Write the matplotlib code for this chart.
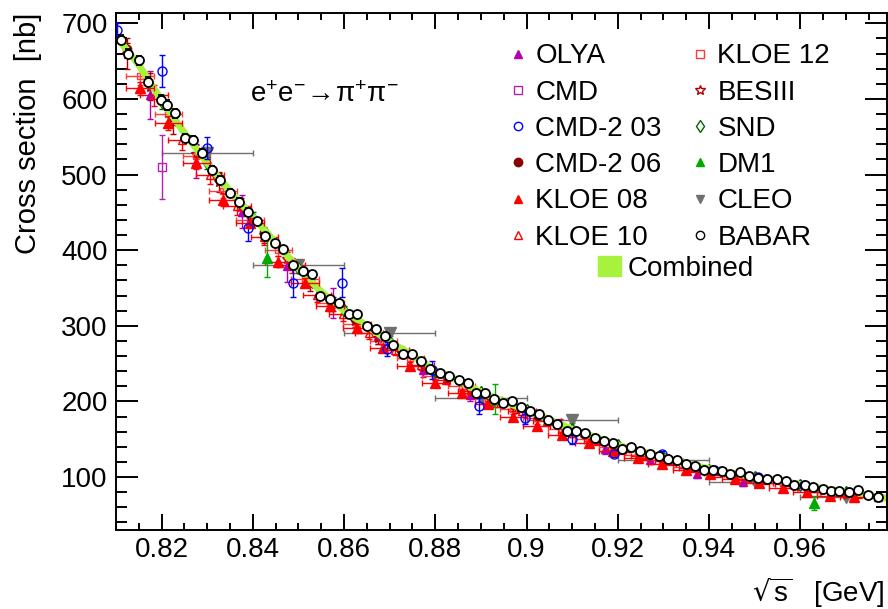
import numpy as np
import matplotlib
matplotlib.use('Agg')
import matplotlib.pyplot as plt
from matplotlib.lines import Line2D
from matplotlib.patches import Patch
from matplotlib.ticker import MultipleLocator, FuncFormatter

plt.rcParams['font.family'] = ['Liberation Sans', 'DejaVu Sans']

# --- data (sqrt(s) in GeV, cross section in nb) ---
babar_x = [0.8111, 0.8127, 0.8151, 0.8171, 0.8199, 0.8211, 0.8230, 0.8251, 0.8269, 0.8288,
           0.8310, 0.8328, 0.8350, 0.8370, 0.8390, 0.8409, 0.8427, 0.8449, 0.8467, 0.8489,
           0.8511, 0.8529, 0.8547, 0.8569, 0.8588, 0.8610, 0.8628, 0.8650, 0.8670, 0.8690,
           0.8708, 0.8729, 0.8748, 0.8768, 0.8789, 0.8811, 0.8829, 0.8851, 0.8871, 0.8889,
           0.8910, 0.8928, 0.8948, 0.8968, 0.8987, 0.9007, 0.9028, 0.9048, 0.9067, 0.9088,
           0.9108, 0.9128, 0.9150, 0.9169, 0.9190, 0.9210, 0.9229, 0.9249, 0.9270, 0.9290,
           0.9310, 0.9330, 0.9350, 0.9370, 0.9388, 0.9409, 0.9429, 0.9447, 0.9469, 0.9487,
           0.9507, 0.9528, 0.9550, 0.9568, 0.9586, 0.9610, 0.9627, 0.9649, 0.9667, 0.9686,
           0.9707, 0.9727, 0.9748, 0.9770]
babar_y = [678, 660, 651, 623, 599, 592, 581, 548, 546, 529,
           506, 493, 476, 464, 451, 438, 419, 410, 401, 380,
           372, 368, 339, 335, 330, 315, 315, 300, 296, 287,
           274, 263, 263, 253, 243, 237, 234, 229, 225, 211,
           211, 203, 198, 200, 192, 187, 184, 175, 170, 161,
           161, 158, 152, 148, 145, 137, 140, 134, 130, 128,
           124, 122, 117, 115, 110, 110, 108, 104, 107, 102,
           99, 98, 97, 95, 90, 89, 87, 84, 82, 82,
           80, 83, 76, 73]
babar_err = [6, 6, 6, 6, 6, 6, 6, 5, 5, 5,
             5, 5, 5, 5, 5, 5, 4, 4, 4, 4,
             4, 4, 4, 4, 4, 3, 3, 3, 3, 3,
             3, 3, 3, 3, 3, 3, 3, 3, 3, 3,
             3, 3, 3, 3, 3, 2, 2, 2, 2, 2,
             2, 2, 2, 2, 2, 2, 2, 2, 2, 2,
             2, 2, 2, 2, 2, 2, 2, 2, 2, 2,
             2, 2, 2, 2, 2, 2, 2, 2, 2, 2,
             2, 2, 2, 2]

kloe08_x = [0.8153, 0.8215, 0.8276, 0.8335, 0.8394, 0.8456, 0.8514, 0.8569, 0.8628, 0.8686,
            0.8745, 0.8800, 0.8858, 0.8916, 0.8971, 0.9022, 0.9077, 0.9136, 0.9189, 0.9244,
            0.9297, 0.9350, 0.9403, 0.9458, 0.9510, 0.9562, 0.9614, 0.9666, 0.9718]
kloe08_y = [614, 568, 515, 467, 436, 385, 357, 326, 297, 271,
            247, 225, 211, 196, 180, 167, 156, 145, 135, 125,
            117, 109, 104, 97, 92, 86, 80, 75, 73]
kloe08_err = [9, 9, 8, 8, 7, 7, 6, 6, 5, 5, 5, 4, 4, 4, 4, 3, 3, 3, 3, 3,
              3, 2, 2, 2, 2, 2, 2, 2, 2]

kloe10_x = [0.8183, 0.8245, 0.8306, 0.8365, 0.8425, 0.8485, 0.8541, 0.8598, 0.8655, 0.8712,
            0.8768, 0.8824, 0.8880, 0.8935, 0.8990, 0.9045, 0.9100, 0.9155, 0.9208, 0.9260,
            0.9312, 0.9365, 0.9418, 0.9470, 0.9522, 0.9574, 0.9626, 0.9676, 0.9726]
kloe10_y = [605, 546, 500, 458, 417, 380, 341, 315, 291, 268,
            248, 229, 214, 198, 187, 174, 158, 148, 136, 128,
            121, 112, 106, 101, 96, 91, 85, 80, 77]
kloe10_err = [14, 13, 12, 11, 10, 10, 9, 8, 8, 7, 7, 6, 6, 6, 5, 5, 5, 4, 4, 4,
              4, 4, 3, 3, 3, 3, 3, 3, 3]

kloe12_x = kloe08_x
kloe12_y = [630, 580, 525, 478, 440, 400, 362, 330, 303, 280,
            258, 234, 221, 203, 190, 178, 163, 150, 140, 129,
            122, 113, 107, 101, 96, 92, 86, 80, 76]
kloe12_err = [12, 11, 10, 9, 8, 8, 7, 7, 6, 6, 5, 5, 5, 4, 4, 4, 4, 3, 3, 3,
              3, 3, 3, 2, 2, 2, 2, 2, 2]
kloe_dx = 0.003

olya_x = [0.8175, 0.8275, 0.8376, 0.8474, 0.8575, 0.8675, 0.8774, 0.8876, 0.9074, 0.9172,
          0.9271, 0.9373, 0.9474, 0.9666, 0.9770]
olya_y = [605, 517, 451, 379, 330, 286, 242, 209, 170, 137, 123, 104, 93, 75, 74]
olya_err = [32, 22, 22, 21, 20, 10, 10, 9, 7, 6, 6, 5, 5, 4, 4]

cmd_x = [0.8200]
cmd_y = [510]
cmd_err = [42]

cmd203_x = [0.8102, 0.8200, 0.8299, 0.8390, 0.8489, 0.8595, 0.8694, 0.8792, 0.8895, 0.8997,
            0.9099, 0.9192, 0.9297, 0.9410, 0.9508, 0.9609]
cmd203_y = [691, 637, 535, 429, 357, 357, 269, 242, 194, 178, 150, 131, 130, 110, 100, 90]
cmd203_err = [10, 21, 15, 17, 19, 19, 9, 12, 10, 8, 6, 5, 5, 4, 4, 3]

cmd206_x = [0.8125, 0.8225, 0.8325, 0.8425, 0.8525, 0.8625, 0.8725, 0.8825, 0.8925, 0.9025,
            0.9125, 0.9225, 0.9325, 0.9425, 0.9525, 0.9625, 0.9725]
cmd206_y = [666, 578, 496, 424, 360, 309, 268, 233, 205, 181, 157, 138, 121, 108, 98, 87, 78]
cmd206_err = [8, 7, 6, 5, 5, 4, 4, 3, 3, 3, 3, 2, 2, 2, 2, 2, 2]

bes_x = [0.8125, 0.8175, 0.8225, 0.8275, 0.8325, 0.8375, 0.8425, 0.8475, 0.8525, 0.8575,
         0.8625, 0.8675, 0.8725, 0.8775, 0.8825, 0.8875, 0.8925, 0.8975]
bes_y = [660, 616, 570, 527, 490, 457, 420, 388, 355, 329, 306, 284, 265, 246, 230, 215, 201, 190]
bes_err = [20, 18, 16, 14, 13, 12, 11, 10, 9, 9, 8, 8, 7, 7, 6, 6, 6, 5]

snd_x = [0.8200, 0.8300, 0.8400, 0.8500, 0.8600, 0.8700, 0.8800, 0.8900, 0.9000, 0.9100,
         0.9200, 0.9300, 0.9400, 0.9500, 0.9600, 0.9700]
snd_y = [596, 515, 443, 376, 321, 279, 239, 212, 189, 163, 142, 126, 110, 100, 89, 80]
snd_err = [9, 8, 7, 6, 5, 4, 4, 3, 3, 3, 3, 2, 2, 2, 2, 2]

dm1_x = [0.843, 0.893, 0.963]
dm1_y = [390, 203, 66]
dm1_err = [26, 20, 9]

cleo_x = [0.83, 0.85, 0.87, 0.89, 0.91, 0.93, 0.95, 0.97]
cleo_y = [529, 381, 291, 205, 176, 122, 94, 74]
cleo_err = [8, 6, 5, 4, 5, 3, 3, 3]
cleo_dx = 0.01

comb_x = [0.810, 0.815, 0.820, 0.825, 0.830, 0.835, 0.840, 0.845, 0.850, 0.855,
          0.860, 0.865, 0.870, 0.875, 0.880, 0.885, 0.890, 0.895, 0.900, 0.905,
          0.910, 0.915, 0.920, 0.925, 0.930, 0.935, 0.940, 0.945, 0.950, 0.955,
          0.960, 0.965, 0.970, 0.975, 0.979]
comb_y = [683, 645, 598, 555, 515, 478, 444, 410, 376, 345,
          320, 300, 279, 261, 240, 228, 212, 200, 189, 176,
          163, 153, 142, 134, 126, 118, 111, 105, 100, 96,
          90, 85, 80, 76, 72]

comb_color = '#a6f23c'

fig = plt.figure(figsize=(8.88, 6.09), dpi=100)
ax = fig.add_axes([0.1306, 0.1297, 0.8682, 0.8494])


def draw(x, y, yerr, color, marker, filled, ms, z, xerr=None, mew=1.0, face='none'):
    ax.errorbar(x, y, yerr=yerr, xerr=xerr, fmt=marker, color=color,
                mfc=color if filled else face, mec=color, ms=ms, mew=mew,
                elinewidth=1.0, capsize=2.5, capthick=1.0, zorder=z)


# combined band under the points
ax.plot(comb_x, comb_y, color=comb_color, lw=5, zorder=2.5, solid_capstyle='butt')

draw(cleo_x, cleo_y, cleo_err, '#707070', 'v', True, 8, 2, xerr=cleo_dx)
draw(cmd_x, cmd_y, cmd_err, '#b520b5', 's', False, 6, 2)
draw(olya_x, olya_y, olya_err, '#b000b0', '^', True, 6, 2)
draw(bes_x, bes_y, bes_err, '#aa0000', '*', False, 7, 2)
draw(kloe12_x, kloe12_y, kloe12_err, '#ff3b3b', 's', False, 5, 2, xerr=kloe_dx)
draw(kloe10_x, kloe10_y, kloe10_err, '#ff0000', '^', False, 6, 2, xerr=kloe_dx)
draw(kloe08_x, kloe08_y, kloe08_err, '#ff0000', '^', True, 7, 3, xerr=kloe_dx)
draw(cmd206_x, cmd206_y, cmd206_err, '#8b0000', 'o', True, 6, 2)
draw(snd_x, snd_y, snd_err, '#006400', 'd', False, 6, 2)
draw(dm1_x, dm1_y, dm1_err, '#00aa00', '^', True, 7, 3)
draw(cmd203_x, cmd203_y, cmd203_err, '#0000ff', 'o', False, 6.5, 3)
draw(babar_x, babar_y, babar_err, 'black', 'o', False, 6.5, 4, mew=1.3, face='white')

ax.set_xlim(0.81, 0.979)
ax.set_ylim(30, 714)

ax.xaxis.set_major_locator(MultipleLocator(0.02))
ax.xaxis.set_minor_locator(MultipleLocator(0.005))
ax.yaxis.set_major_locator(MultipleLocator(100))
ax.yaxis.set_minor_locator(MultipleLocator(20))
ax.xaxis.set_major_formatter(FuncFormatter(lambda v, p: f'{v:g}'))
ax.yaxis.set_major_formatter(FuncFormatter(lambda v, p: f'{v:g}'))

ax.tick_params(which='both', direction='in', top=True, right=True, width=1.4,
               labelsize=20)
ax.tick_params(axis='x', which='major', length=11.5, pad=5)
ax.tick_params(axis='x', which='minor', length=5)
ax.tick_params(axis='y', which='major', length=16, pad=6)
ax.tick_params(axis='y', which='minor', length=8)
for s in ax.spines.values():
    s.set_linewidth(1.4)

ax.set_xlabel(r'$\mathregular{\sqrt{s}}$   [GeV]', fontsize=20, loc='right')
ax.xaxis.set_label_coords(0.997, -0.088)
ax.set_ylabel('Cross section  [nb]', fontsize=21, loc='top')
ax.yaxis.set_label_coords(-0.096, 1.0)

ax.text(0.174, 0.827, r'$\mathregular{e^{+}e^{-}\!\rightarrow\!\pi^{+}\pi^{-}}$',
        transform=ax.transAxes, fontsize=20, va='baseline')

# legend
names = ['OLYA', 'CMD', 'CMD-2 03', 'CMD-2 06', 'KLOE 08', 'KLOE 10',
         'KLOE 12', 'BESIII', 'SND', 'DM1', 'CLEO', 'BABAR']
styles = [('#b000b0', '^', True), ('#b520b5', 's', False), ('#0000ff', 'o', False),
          ('#8b0000', 'o', True), ('#ff0000', '^', True), ('#ff0000', '^', False),
          ('#ff3b3b', 's', False), ('#aa0000', '*', False), ('#006400', 'd', False),
          ('#00aa00', '^', True), ('#707070', 'v', True), ('black', 'o', False)]
handles = [Line2D([], [], ls='none', marker=m, color=c, mec=c,
                  mfc=c if f else 'none', ms=6 if m != '*' else 7.5, mew=1.0)
           for c, m, f in styles]
leg1 = ax.legend(handles, names, ncol=2, loc='upper left', bbox_to_anchor=(0.511, 0.941),
                 frameon=False, fontsize=20, handlelength=0.6, handletextpad=0.31,
                 columnspacing=1.1, labelspacing=0.37, borderpad=0, borderaxespad=0)
ax.add_artist(leg1)
ax.legend([Patch(color=comb_color)], ['Combined'], loc='upper left',
          bbox_to_anchor=(0.6247, 0.530), frameon=False, fontsize=20,
          handlelength=0.86, handleheight=0.75, handletextpad=0.22,
          borderpad=0, borderaxespad=0)

fig.savefig('out.png', dpi=100)
